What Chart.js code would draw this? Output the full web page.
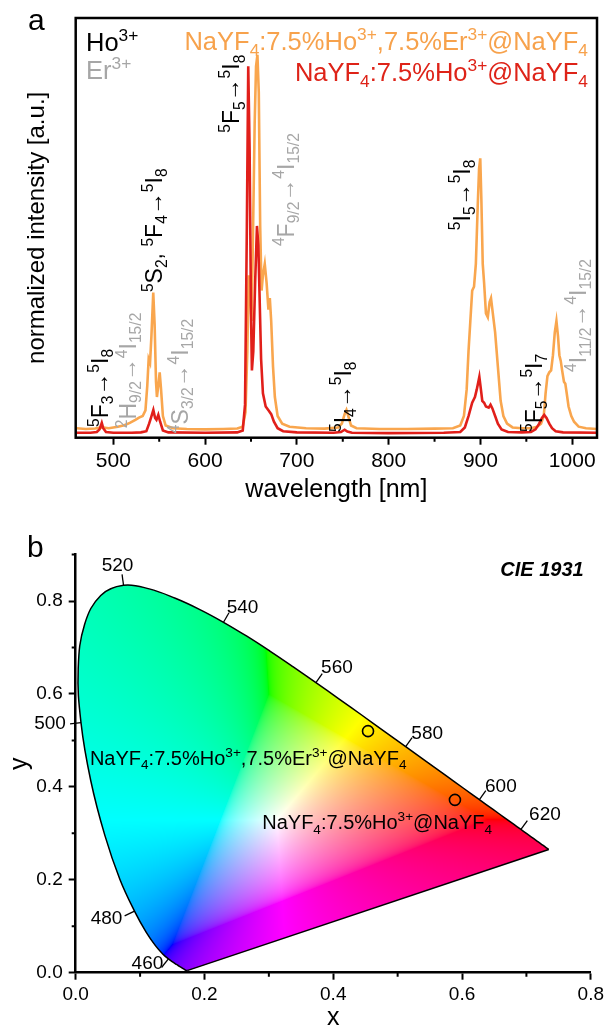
<!DOCTYPE html>
<html><head><meta charset="utf-8">
<script src="https://cdn.jsdelivr.net/npm/chart.js@4/dist/chart.umd.min.js"></script>
<style>
html,body{margin:0;padding:0;background:#fff;overflow:hidden}
#wrap{position:relative;width:608px;height:1029px;background:#fff}
canvas{position:absolute;left:0}
</style></head>
<body><div id="wrap">
<canvas id="c1" width="608" height="515" style="top:0"></canvas>
<canvas id="c2" width="608" height="514" style="top:515px"></canvas>
</div>
<script>
const FAM = "'Liberation Sans', Arial, sans-serif";
// ---------- Panel a data ----------
const xTicksA = [500,600,700,800,900,1000];
const xMinorA = [550,650,750,850,950];
const coWl = [460,470,480,487,495,505,512,518,524,528,532,535,537,538.5,540,541.5,543.5,545,546.5,547.5,549,550.5,552,554,557,565,580,600,620,635,641,644,646,647.5,649,650.5,652,654,655.5,657,658.5,660,661.5,663,665,667,669,670.5,672,674,676,679,684,692,710,730,745,749,752,754,756,759,765,790,820,850,870,878,882,885,887,889,891,893,895,897,898.5,899.8,901,902.5,904,906,908,910,911.5,913,916,919,922,925,929,935,945,955,962,966,969,971,973,975,977,979,981,982.8,984.5,986,987.5,989,991,992.5,994,996,999,1002,1007,1015,1027];
const coInt = [0.018,0.016,0.017,0.020,0.018,0.022,0.026,0.032,0.040,0.046,0.050,0.065,0.13,0.20,0.19,0.26,0.375,0.29,0.14,0.10,0.13,0.165,0.12,0.05,0.025,0.018,0.016,0.015,0.016,0.017,0.022,0.06,0.22,0.42,0.38,0.30,0.50,0.82,0.97,1.0,0.9,0.55,0.38,0.42,0.45,0.40,0.33,0.36,0.30,0.18,0.10,0.05,0.03,0.022,0.018,0.017,0.02,0.03,0.055,0.066,0.05,0.025,0.018,0.016,0.016,0.017,0.018,0.025,0.05,0.12,0.22,0.30,0.38,0.39,0.45,0.60,0.70,0.728,0.62,0.45,0.40,0.32,0.31,0.35,0.36,0.33,0.27,0.18,0.09,0.05,0.03,0.02,0.018,0.018,0.022,0.03,0.05,0.11,0.155,0.165,0.17,0.21,0.27,0.30,0.26,0.21,0.195,0.17,0.14,0.135,0.11,0.075,0.05,0.035,0.022,0.018,0.016];
const hoWl = [460,475,482,485,487.4,489,492,500,520,530,536,539,541,543.6,545.5,547,549,551,554,560,600,635,641,643.5,645.5,647,648.5,650,651,652.5,654.5,656.5,658,659.5,661,663,666,669,672,675,679,685,700,740,748,752,755,760,800,860,878,883,887,891,894,896,898.8,900.5,902,904,906,909,911,913,916,919,923,930,945,955,960,964,967,969.5,972,975,978,982,990,1027];
const hoInt = [0.006,0.006,0.008,0.015,0.032,0.018,0.008,0.006,0.006,0.007,0.01,0.03,0.045,0.066,0.045,0.04,0.053,0.035,0.012,0.007,0.006,0.007,0.012,0.08,0.55,0.97,0.75,0.32,0.17,0.22,0.40,0.55,0.50,0.35,0.2,0.11,0.075,0.065,0.055,0.035,0.018,0.01,0.007,0.006,0.008,0.014,0.009,0.006,0.005,0.006,0.008,0.02,0.05,0.085,0.10,0.12,0.153,0.12,0.09,0.085,0.075,0.072,0.08,0.07,0.05,0.03,0.015,0.008,0.007,0.008,0.015,0.03,0.045,0.053,0.045,0.03,0.018,0.01,0.007,0.006];
const seriesLabels = ['NaYF_{4}:7.5%Ho^{3+},7.5%Er^{3+}@NaYF_{4}','NaYF_{4}:7.5%Ho^{3+}@NaYF_{4}'];
// transition labels: text, wavelength of centre line, intensity where text starts
const noteText = ['^{5}F_{5}→^{5}I_{8}','^{5}S_{2}, ^{5}F_{4}→^{5}I_{8}','^{5}F_{3}→^{5}I_{8}','^{5}I_{4}→^{5}I_{8}','^{5}I_{5}→^{5}I_{8}','^{5}F_{5}→^{5}I_{7}','^{4}F_{9/2}→^{4}I_{15/2}','^{2}H_{9/2}→^{4}I_{15/2}','^{4}S_{3/2}→^{4}I_{15/2}','^{4}I_{11/2}→^{4}I_{15/2}'];
const noteWl = [628.4,544.4,485.5,749.4,879.2,957.7,687.3,515.5,572.7,1005.6];
const noteInt = [0.795,0.376,0.021,0.008,0.539,0.008,0.497,0.018,0.005,0.166];
const noteIon = ['Ho','Ho','Ho','Ho','Ho','Ho','Er','Er','Er','Er'];

// ---------- Panel b data ----------
const cieXTicks = [0,0.2,0.4,0.6,0.8];
const cieYTicks = [0,0.2,0.4,0.6,0.8];
const cieXMinor = [0.1,0.3,0.5,0.7];
const cieYMinor = [0.1,0.3,0.5,0.7,0.9];
const locusWl = [380,385,390,395,400,405,410,415,420,425,430,435,440,445,450,455,460,465,470,475,480,485,490,495,500,505,510,515,520,525,530,535,540,545,550,555,560,565,570,575,580,585,590,595,600,605,610,615,620,625,630,635,640,645,650,655,660,665,670,675,680,690,700];
const locusX = [0.1741,0.1740,0.1738,0.1736,0.1733,0.1730,0.1726,0.1721,0.1714,0.1703,0.1689,0.1669,0.1644,0.1611,0.1566,0.1510,0.1440,0.1355,0.1241,0.1096,0.0913,0.0687,0.0454,0.0235,0.0082,0.0039,0.0139,0.0389,0.0743,0.1142,0.1547,0.1929,0.2296,0.2658,0.3016,0.3373,0.3731,0.4087,0.4441,0.4788,0.5125,0.5448,0.5752,0.6029,0.6270,0.6482,0.6658,0.6801,0.6915,0.7006,0.7079,0.7140,0.7190,0.7230,0.7260,0.7283,0.7300,0.7311,0.7320,0.7327,0.7334,0.7344,0.7347];
const locusY = [0.0050,0.0050,0.0049,0.0049,0.0048,0.0048,0.0048,0.0048,0.0051,0.0058,0.0069,0.0086,0.0109,0.0138,0.0177,0.0227,0.0297,0.0399,0.0578,0.0868,0.1327,0.2007,0.2950,0.4127,0.5384,0.6548,0.7502,0.8120,0.8338,0.8262,0.8059,0.7816,0.7543,0.7243,0.6923,0.6589,0.6245,0.5896,0.5547,0.5202,0.4866,0.4544,0.4242,0.3965,0.3725,0.3514,0.3340,0.3197,0.3083,0.2993,0.2920,0.2859,0.2809,0.2770,0.2740,0.2717,0.2700,0.2689,0.2680,0.2673,0.2666,0.2656,0.2653];
const locusMarks = [460,480,500,520,540,560,580,600,620];
const sampleNames = ['NaYF_{4}:7.5%Ho^{3+},7.5%Er^{3+}@NaYF_{4}','NaYF_{4}:7.5%Ho^{3+}@NaYF_{4}'];
const sampleX = [0.454,0.589];
const sampleY = [0.52,0.372];

// ---------- styles ----------
const ORANGE='#F9A64E', RED='#E11F1A', GREY='#A6A6A6';
const markLabelOffset = {460:[-21,5],480:[-28,8],500:[-31,1.5],520:[-6,-20],540:[19,-15],560:[21,-15],580:[21.5,-13],600:[21.5,-13],620:[24,-15]};

// ---------- rich text helper ----------
function parseRich(s){const out=[];let i=0,buf='';
  while(i<s.length){const c=s[i];
    if((c==='^'||c==='_')&&s[i+1]==='{'){if(buf){out.push({t:buf,m:0});buf='';}
      const j=s.indexOf('}',i+2);out.push({t:s.slice(i+2,j),m:c==='^'?1:-1});i=j+1;}
    else{buf+=c;i++;}}
  if(buf)out.push({t:buf,m:0});return out;}
function drawRich(ctx,s,x,y,o){
  const parts=parseRich(s), small=o.size*0.68;
  const f=sz=>`${o.style||'normal'} ${o.weight||'normal'} ${sz}px ${FAM}`;
  ctx.fillStyle=o.color;ctx.textBaseline='alphabetic';ctx.textAlign='left';
  let w=0;for(const p of parts){ctx.font=f(p.m?small:o.size);w+=ctx.measureText(p.t).width;}
  let cx=x-(o.align==='right'?w:o.align==='center'?w/2:0);
  for(const p of parts){ctx.font=f(p.m?small:o.size);
    const dy=p.m===1?-o.size*0.4:p.m===-1?o.size*0.22:0;
    ctx.fillText(p.t,cx,y+dy);cx+=ctx.measureText(p.t).width;}
  return w;}

function minorTicks(chart, xs, ys, len){
  const {ctx,chartArea:a,scales:{x,y}}=chart;
  ctx.save();ctx.strokeStyle='#000';ctx.lineWidth=2;ctx.beginPath();
  for(const v of xs){const px=x.getPixelForValue(v);ctx.moveTo(px,a.bottom);ctx.lineTo(px,a.bottom+len);}
  for(const v of ys){const py=y.getPixelForValue(v);ctx.moveTo(a.left,py);ctx.lineTo(a.left-len,py);}
  ctx.stroke();ctx.restore();}

// ---------- Panel a ----------
const panelA = {
  id:'panelA',
  afterDatasetsDraw(chart){
    const {ctx,chartArea:a,scales:{x,y}}=chart;
    ctx.save();
    ctx.strokeStyle='#000';ctx.lineWidth=2.5;
    ctx.strokeRect(a.left,a.top,a.right-a.left,a.bottom-a.top);
    ctx.restore();
    minorTicks(chart,xMinorA,[],4);
    ctx.save();
    noteText.forEach((t,i)=>{
      const px=x.getPixelForValue(noteWl[i]), py=y.getPixelForValue(noteInt[i]);
      const size=23;
      ctx.save();ctx.translate(px,py);ctx.rotate(-Math.PI/2);
      drawRich(ctx,t,0,size*0.36,{size,color:noteIon[i]==='Ho'?'#000':GREY});
      ctx.restore();
    });
    drawRich(ctx,'Ho^{3+}',86,51,{size:25.5,color:'#000'});
    drawRich(ctx,'Er^{3+}',86,79,{size:25.5,color:GREY});
    drawRich(ctx,seriesLabels[0],588,50,{size:25.5,color:'#F7A24C',align:'right'});
    drawRich(ctx,seriesLabels[1],588,81,{size:25.5,color:'#DE2318',align:'right'});
    ctx.font=`30px ${FAM}`;ctx.fillStyle='#000';ctx.textAlign='left';ctx.textBaseline='alphabetic';
    ctx.fillText('a',28,30);
    ctx.restore();
  }
};
new Chart(document.getElementById('c1'),{
  type:'scatter',
  data:{datasets:[
    {label:seriesLabels[1],data:hoWl.map((w,i)=>({x:w,y:hoInt[i]})),showLine:true,borderColor:RED,borderWidth:2.6,pointRadius:0,tension:0},
    {label:seriesLabels[0],data:coWl.map((w,i)=>({x:w,y:coInt[i]})),showLine:true,borderColor:ORANGE,borderWidth:2.6,pointRadius:0,tension:0}
  ]},
  options:{responsive:false,animation:false,events:[],
    layout:{padding:{left:0,top:18,right:11,bottom:0}},
    plugins:{legend:{display:false},tooltip:{enabled:false}},
    scales:{
      x:{type:'linear',min:459,max:1027,
        afterBuildTicks:s=>{s.ticks=xTicksA.map(v=>({value:v}));},
        afterFit:s=>{s.height=515-437.7;},
        grid:{drawOnChartArea:false,drawTicks:true,tickLength:7,tickWidth:2,tickColor:'#000'},
        border:{display:false},
        ticks:{font:{size:21,family:FAM},color:'#000',padding:4,maxRotation:0,autoSkip:false,callback:v=>String(v)},
        title:{display:true,text:'wavelength [nm]',font:{size:25,family:FAM},color:'#000',padding:{top:0,bottom:10}}},
      y:{type:'linear',min:-0.007,max:1.097,
        afterFit:s=>{s.width=75.7;},
        ticks:{display:false},grid:{display:false},border:{display:false},
        title:{display:true,text:'normalized intensity [a.u.]',font:{size:24,family:FAM},color:'#000',padding:{top:23,bottom:0}}}
    }},
  plugins:[panelA]
});

// ---------- Panel b ----------
function xyToRGB(x,y){
  const X=x/y,Y=1,Z=(1-x-y)/y;
  let r=3.2406*X-1.5372*Y-0.4986*Z, g=-0.9689*X+1.8758*Y+0.0415*Z, b=0.0557*X-0.2040*Y+1.0570*Z;
  const mn=Math.min(r,g,b); if(mn<0){r-=mn;g-=mn;b-=mn;}
  const mx=Math.max(r,g,b)||1; r/=mx;g/=mx;b/=mx;
  const gam=v=>v<=0.0031308?12.92*v:1.055*Math.pow(v,1/2.4)-0.055;
  return [gam(r)*255,gam(g)*255,gam(b)*255];}
const cieFill = {
  id:'cieFill',
  beforeDatasetsDraw(chart){
    const {ctx,chartArea:a,scales:{x,y}}=chart;
    const L=Math.floor(a.left),T=Math.floor(a.top),w=Math.ceil(a.right)-L,h=Math.ceil(a.bottom)-T;
    const off=document.createElement('canvas');off.width=w;off.height=h;
    const octx=off.getContext('2d');const img=octx.createImageData(w,h);const d=img.data;
    for(let j=0;j<h;j++){const cy=y.getValueForPixel(T+j+0.5);
      for(let i=0;i<w;i++){const cx=x.getValueForPixel(L+i+0.5);const k=(j*w+i)*4;
        if(cy<=0.001){d[k+3]=0;continue;}
        const c=xyToRGB(cx,cy);d[k]=c[0];d[k+1]=c[1];d[k+2]=c[2];d[k+3]=255;}}
    octx.putImageData(img,0,0);
    // clip to the library's own (smoothed) locus line
    const el=chart.getDatasetMeta(1).dataset;
    ctx.save();ctx.beginPath();
    if(el.updateControlPoints) el.updateControlPoints(a,'x');
    el.path(ctx);ctx.closePath();ctx.clip();ctx.drawImage(off,L,T);ctx.restore();
  },
  afterDatasetsDraw(chart){
    const {ctx,chartArea:a,scales:{x,y}}=chart;
    minorTicks(chart,cieXMinor,cieYMinor,4);
    ctx.save();
    const wx=x.getPixelForValue(0.3127),wy=y.getPixelForValue(0.329);
    ctx.strokeStyle='#000';ctx.lineWidth=1.3;
    ctx.font=`19px ${FAM}`;ctx.fillStyle='#000';ctx.textAlign='center';ctx.textBaseline='middle';
    locusMarks.forEach(wl=>{
      const i=locusWl.indexOf(wl);
      const px=x.getPixelForValue(locusX[i]),py=y.getPixelForValue(locusY[i]);
      const ax=x.getPixelForValue(locusX[i+1])-x.getPixelForValue(locusX[i-1]);
      const ay=y.getPixelForValue(locusY[i+1])-y.getPixelForValue(locusY[i-1]);
      let nx=ay,ny=-ax;const n=Math.hypot(nx,ny);nx/=n;ny/=n;
      if((px-wx)*nx+(py-wy)*ny<0){nx=-nx;ny=-ny;}
      ctx.beginPath();ctx.moveTo(px,py);ctx.lineTo(px+nx*11,py+ny*11);ctx.stroke();
      const o=markLabelOffset[wl];
      ctx.fillText(String(wl),px+o[0],py+o[1]);
    });
    drawRich(ctx,sampleNames[0],x.getPixelForValue(0.0221),y.getPixelForValue(0.447),{size:20,color:'#000'});
    drawRich(ctx,sampleNames[1],x.getPixelForValue(0.2897),y.getPixelForValue(0.309),{size:20,color:'#000'});
    drawRich(ctx,'CIE 1931',x.getPixelForValue(0.789),y.getPixelForValue(0.8545),{size:20,color:'#000',weight:'bold',style:'italic',align:'right'});
    ctx.font=`30px ${FAM}`;ctx.textAlign='left';ctx.textBaseline='alphabetic';ctx.fillStyle='#000';
    ctx.fillText('b',27,41.7);
    ctx.restore();
  }
};
const last = locusX.length-1;
new Chart(document.getElementById('c2'),{
  type:'scatter',
  data:{datasets:[
    {label:'samples',data:sampleX.map((v,i)=>({x:v,y:sampleY[i]})),pointRadius:5.5,pointStyle:'circle',borderColor:'#000',borderWidth:1.6,backgroundColor:'rgba(0,0,0,0)',showLine:false},
    {label:'locus',data:locusX.map((v,i)=>({x:v,y:locusY[i]})),showLine:true,borderColor:'#000',borderWidth:1.5,pointRadius:0,tension:0.4},
    {label:'purple line',data:[{x:locusX[last],y:locusY[last]},{x:locusX[0],y:locusY[0]}],showLine:true,borderColor:'#000',borderWidth:1.5,pointRadius:0,tension:0}
  ]},
  options:{responsive:false,animation:false,events:[],
    layout:{padding:{left:0,top:39.6,right:15.1,bottom:0}},
    plugins:{legend:{display:false},tooltip:{enabled:false}},
    scales:{
      x:{type:'linear',min:0,max:0.8,
        afterBuildTicks:s=>{s.ticks=cieXTicks.map(v=>({value:v}));},
        afterFit:s=>{s.height=514-457.7;},
        grid:{drawOnChartArea:false,drawTicks:true,tickLength:7,tickWidth:2,tickColor:'#000'},
        border:{display:true,width:2.5,color:'#000'},
        ticks:{font:{size:19,family:FAM},color:'#000',padding:4,maxRotation:0,autoSkip:false,callback:v=>Number(v).toFixed(1)},
        title:{display:true,text:'x',font:{size:25,family:FAM,lineHeight:0.8},color:'#000',padding:{top:0,bottom:1}}},
      y:{type:'linear',min:0,max:0.9,
        afterBuildTicks:s=>{s.ticks=cieYTicks.map(v=>({value:v}));},
        afterFit:s=>{s.width=75.7;},
        grid:{drawOnChartArea:false,drawTicks:true,tickLength:7,tickWidth:2,tickColor:'#000'},
        border:{display:true,width:2.5,color:'#000'},
        ticks:{font:{size:19,family:FAM},color:'#000',padding:6,autoSkip:false,callback:v=>Number(v).toFixed(1)},
        title:{display:true,text:'y',font:{size:25,family:FAM},color:'#000',padding:{top:5,bottom:0}}}
    }},
  plugins:[cieFill]
});
</script>
</body></html>
